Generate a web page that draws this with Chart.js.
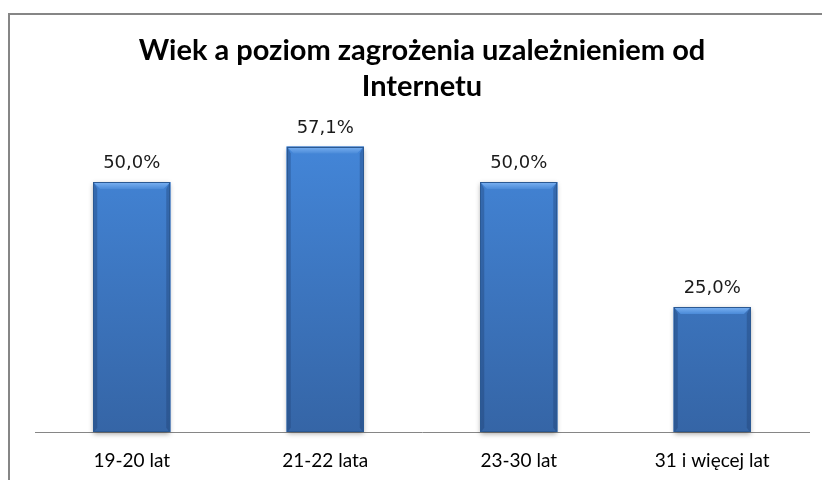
<!DOCTYPE html>
<html>
<head>
<meta charset="utf-8">
<script src="https://cdn.jsdelivr.net/npm/chart.js@4"></script>
<style>
  html, body { margin: 0; padding: 0; background: #fff; }
  #wrap { width: 822px; height: 480px; position: relative; }
</style>
</head>
<body>
<div id="wrap"><canvas id="chart"></canvas></div>
<script>
// dane wykresu
const kategorie = ['19-20 lat', '21-22 lata', '23-30 lat', '31 i więcej lat'];
const wartosci  = [50.0, 57.1, 50.0, 25.0];
const tytul     = ['Wiek a poziom zagrożenia uzależnieniem od', 'Internetu'];

const fmt = v => v.toFixed(1).replace('.', ',') + '%';

// ramka wykresu (wychodzi poza kadr z prawej i z dołu)
const ramka = {
  id: 'ramka',
  beforeDraw(chart) {
    const ctx = chart.ctx;
    ctx.save();
    ctx.fillStyle = '#fff';
    ctx.fillRect(0, 0, chart.width, chart.height);
    ctx.strokeStyle = '#868686';
    ctx.lineWidth = 2;
    ctx.strokeRect(9, 14, chart.width + 20, chart.height + 20);
    ctx.restore();
  }
};

// cień i skos na górze słupków
const slupki3d = {
  id: 'slupki3d',
  beforeDatasetsDraw(chart) {
    const ctx = chart.ctx;
    chart.getDatasetMeta(0).data.forEach(bar => {
      const w = bar.width, x0 = bar.x - w / 2;
      ctx.save();
      ctx.shadowColor = 'rgba(0,0,0,0.35)';
      ctx.shadowBlur = 5;
      ctx.shadowOffsetY = 2;
      ctx.fillStyle = '#3a70b8';
      ctx.fillRect(x0, bar.y, w, bar.base - bar.y);
      ctx.restore();
    });
  },
  afterDatasetsDraw(chart) {
    const ctx = chart.ctx;
    chart.getDatasetMeta(0).data.forEach((bar, i) => {
      const w = bar.width, x0 = bar.x - w / 2, x1 = bar.x + w / 2;
      const b = 7;
      ctx.save();
      // górny skos
      const g = ctx.createLinearGradient(0, bar.y, 0, bar.y + b);
      g.addColorStop(0, '#7cb2f2');
      g.addColorStop(1, '#4a8ad8');
      ctx.fillStyle = g;
      ctx.beginPath();
      ctx.moveTo(x0 + 1, bar.y + 1);
      ctx.lineTo(x1 - 1, bar.y + 1);
      ctx.lineTo(x1 - b, bar.y + b);
      ctx.lineTo(x0 + b, bar.y + b);
      ctx.closePath();
      ctx.fill();
      // boki
      ctx.fillStyle = 'rgba(30,60,110,0.35)';
      ctx.beginPath();
      ctx.moveTo(x0 + 1, bar.y + 1);
      ctx.lineTo(x0 + b * 0.6, bar.y + b);
      ctx.lineTo(x0 + b * 0.6, bar.base - b * 0.6);
      ctx.lineTo(x0 + 1, bar.base);
      ctx.closePath();
      ctx.fill();
      ctx.beginPath();
      ctx.moveTo(x1 - 1, bar.y + 1);
      ctx.lineTo(x1 - b * 0.6, bar.y + b);
      ctx.lineTo(x1 - b * 0.6, bar.base - b * 0.6);
      ctx.lineTo(x1 - 1, bar.base);
      ctx.closePath();
      ctx.fill();
      ctx.strokeStyle = '#2b5993';
      ctx.lineWidth = 1;
      ctx.strokeRect(Math.round(x0) + 0.5, Math.round(bar.y) + 0.5, Math.round(w) - 1, Math.round(bar.base - bar.y) - 1);
      // etykieta
      ctx.fillStyle = '#1a1a1a';
      ctx.font = '18px "DejaVu Sans"';
      ctx.textAlign = 'center';
      ctx.textBaseline = 'alphabetic';
      ctx.fillText(fmt(wartosci[i]), bar.x, bar.y - 14);
      ctx.restore();
    });
  }
};

const ctx = document.getElementById('chart').getContext('2d');
new Chart(ctx, {
  type: 'bar',
  data: {
    labels: kategorie,
    datasets: [{
      data: wartosci,
      backgroundColor: c => {
        const a = c.chart.chartArea;
        if (!a) return '#3f7bc8';
        const g = c.chart.ctx.createLinearGradient(0, a.top, 0, a.bottom);
        g.addColorStop(0, '#4487da');
        g.addColorStop(1, '#3565a6');
        return g;
      },
      borderWidth: 0,
      barPercentage: 0.4,
      categoryPercentage: 1.0
    }]
  },
  options: {
    responsive: true,
    maintainAspectRatio: false,
    animation: false,
    layout: { padding: { left: 35, right: 13, top: 0, bottom: 0 } },
    plugins: {
      legend: { display: false },
      tooltip: { enabled: false },
      title: {
        display: true,
        text: tytul,
        color: '#000',
        font: { family: 'Lato', size: 29, weight: 'bold', lineHeight: 1.26 },
        padding: { top: 32, bottom: 27 }
      }
    },
    scales: {
      x: {
        grid: { display: false, drawTicks: false },
        border: { display: true, color: '#868686', width: 1 },
        ticks: { color: '#000', font: { family: 'Lato', size: 19 }, padding: 17 },
        afterFit: s => { s.height = 48; }
      },
      y: {
        display: false,
        min: 0,
        max: 60
      }
    }
  },
  plugins: [ramka, slupki3d]
});
</script>
</body>
</html>
